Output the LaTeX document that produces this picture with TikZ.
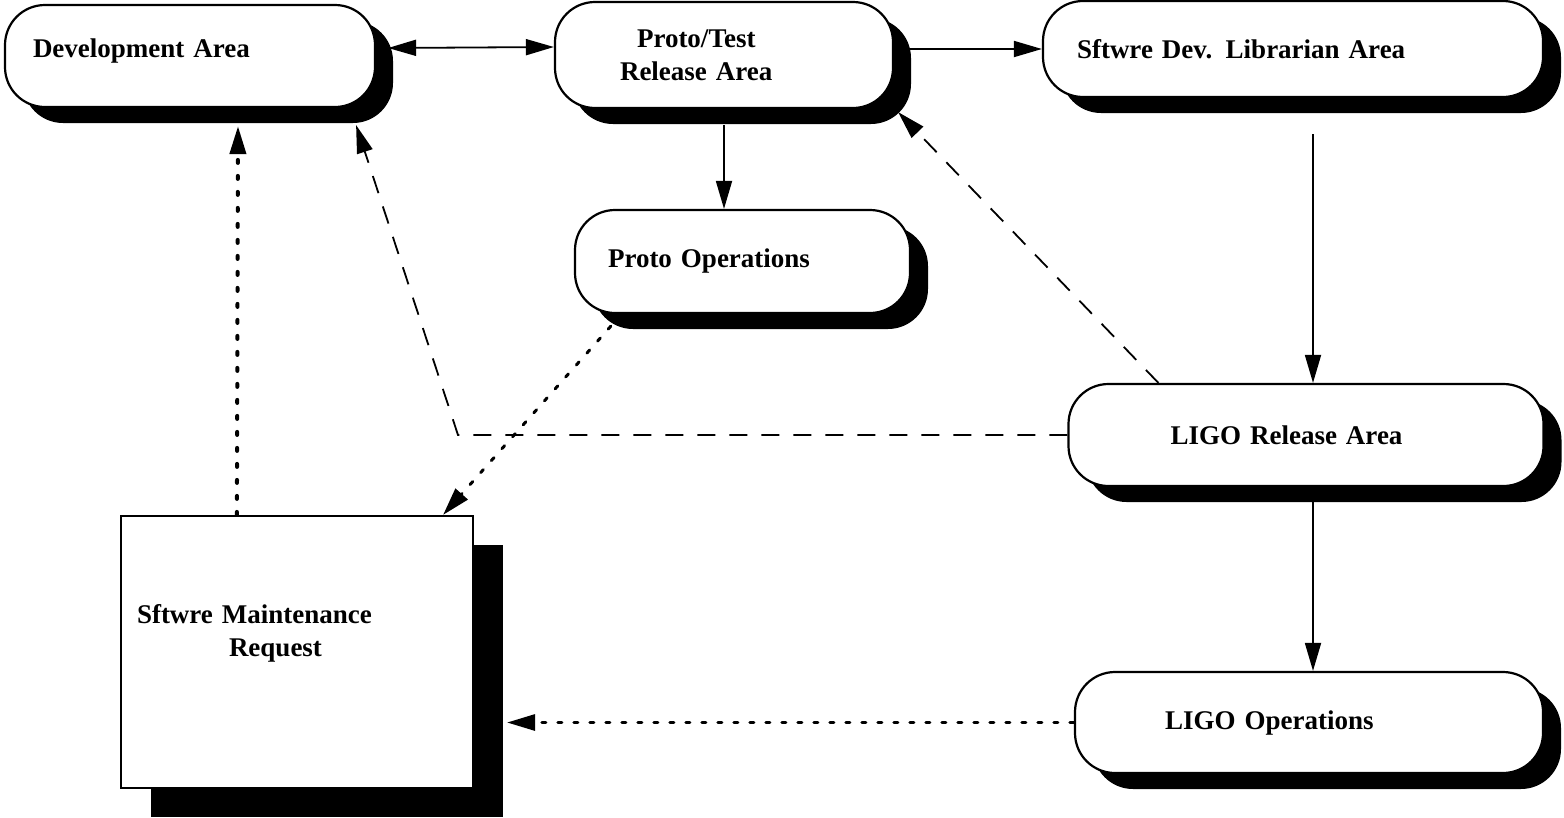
\documentclass[tikz,border=0pt]{standalone}
\usepackage{fontspec}
\setmainfont{Liberation Serif}
\usetikzlibrary{arrows.meta,shadows}

\newcommand{\boxfont}{\fontsize{27}{33}\selectfont\bfseries}

\tikzset{
  area/.style={draw, fill=white, line width=2.2pt, rounded corners=40pt, align=left, inner ysep=4pt, font=\boxfont,
    drop shadow={shadow xshift=18pt, shadow yshift=-16pt, fill=black, opacity=1}},
  dashedarrow/.style={->, dash pattern=on 18pt off 14pt},
  dottedarrow/.style={->, line width=3pt, line cap=round, dash pattern=on 4pt off 12pt},
}

\begin{document}
\begin{tikzpicture}[x=1pt, y=-1pt, >={Triangle[length=28pt,width=16pt]}, line width=1.8pt]
  \useasboundingbox (0,0) rectangle (1564,817);

  \node[area, inner xsep=28pt, text width=314pt, minimum height=102pt] (dev) at (190,56) {Development Area\\[-18pt]\mbox{}};
  \node[area, inner xsep=65pt, text width=208pt, minimum height=106pt] (proto) at (724,55) {\hspace*{17pt}Proto/Test\\Release Area};
  \node[area, inner xsep=34pt, text width=432pt, minimum height=96pt] (lib) at (1293,49) {Sftwre Dev. Librarian Area};
  \node[area, inner xsep=33pt, text width=269pt, minimum height=103pt] (pd) at (742.5,261.5) {Proto Operations};
  \node[area, inner xsep=102pt, text width=271pt, minimum height=102pt] (rel) at (1306,435) {LIGO Release Area};
  \node[area, inner xsep=90pt, text width=288pt, minimum height=101pt] (ops) at (1309,722.5) {LIGO Operations};
  \node[draw, fill=white, line width=2.2pt, align=left, inner ysep=4pt, font=\boxfont,
    inner xsep=16pt, text width=320pt, minimum height=272pt,
    drop shadow={shadow xshift=30pt, shadow yshift=-29pt, fill=black, opacity=1}]
    (req) at (297,652) {Sftwre Maintenance\\\hspace*{92pt}Request\\[11pt]\mbox{}};

  % solid flow
  \draw[<->] ([xshift=12pt,yshift=8pt]dev.east) -- ([yshift=8pt]proto.west);
  \draw[->] ([xshift=14pt]proto.east |- lib.west) -- (lib.west);
  \draw[->] ([yshift=-16pt]proto.south) -- (proto.south |- pd.north);
  \draw[->] ([xshift=20pt,yshift=-36pt]lib.south) -- ([xshift=20pt]lib.south |- rel.north);
  \draw[->] ([xshift=7pt,yshift=-14pt]rel.south) -- ([xshift=7pt]rel.south |- ops.north);

  % dashed returns
  \coordinate (bend) at (458,435);
  \draw[dashedarrow] ([xshift=91pt]rel.north west) -- ([xshift=4pt,yshift=-3pt]proto.south east);
  \draw[dashedarrow] (rel.west) -- (bend) -- ([xshift=-20pt,yshift=-17pt]dev.south east);

  % dotted requests
  \draw[dottedarrow, line width=4pt, dash pattern=on 3pt off 13pt] ([xshift=117pt]req.north west) -- ([xshift=48pt,yshift=-18pt]dev.south);
  \draw[dottedarrow] ([xshift=37pt,yshift=-12pt]pd.south west) -- ([xshift=-31pt]req.north east);
  \draw[dottedarrow] (ops.west) -- ([xshift=33pt]req.east |- ops.west);
\end{tikzpicture}
\end{document}
